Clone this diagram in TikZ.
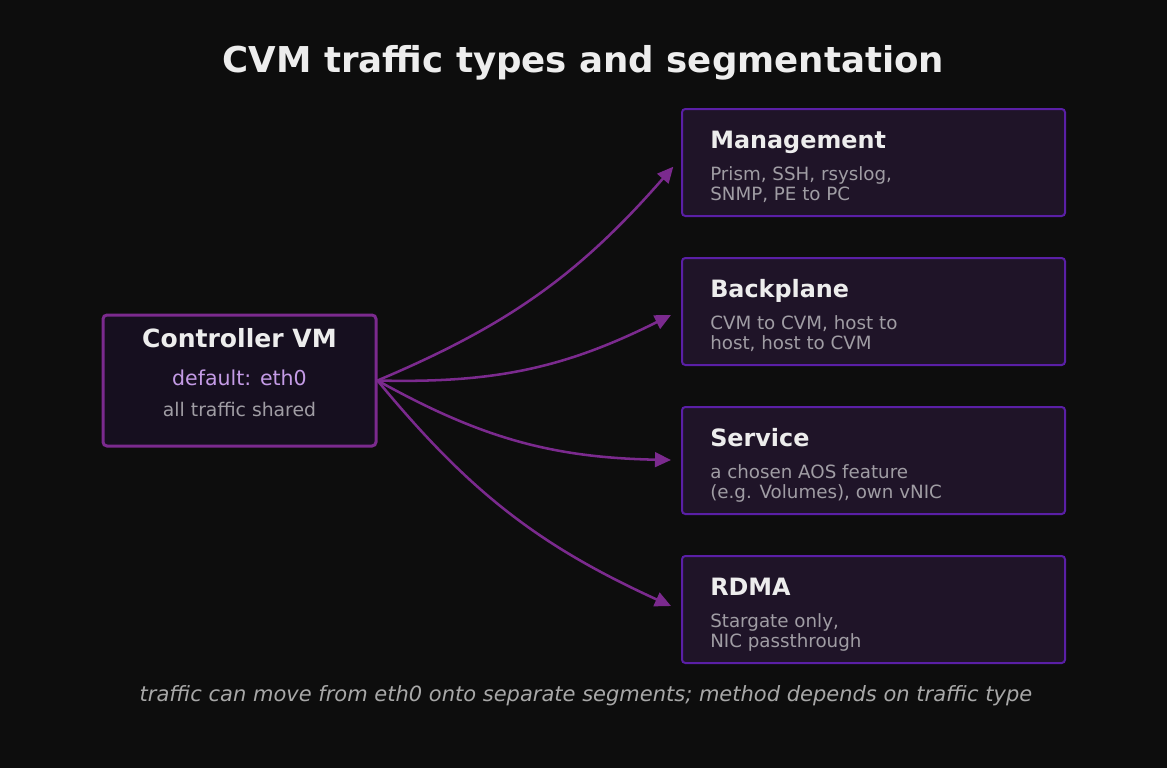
\documentclass[tikz,border=0pt]{standalone}
\usepackage{fontspec}
\setmainfont{DejaVu Sans}
\usetikzlibrary{arrows.meta}
\definecolor{bg}{HTML}{0D0D0D}
\definecolor{cvmfill}{HTML}{160F1F}
\definecolor{cvmline}{HTML}{7B2A8E}
\definecolor{segfill}{HTML}{1F1428}
\definecolor{segline}{HTML}{5A1FA6}
\definecolor{arrowc}{HTML}{7B2A8E}
\definecolor{titlec}{HTML}{EDEDED}
\definecolor{subc}{HTML}{A09DA4}
\definecolor{lav}{HTML}{C49BE6}
\definecolor{footc}{HTML}{A8A8A8}
\tikzset{
  cvmbox/.style={draw=cvmline, fill=cvmfill, line width=2.25pt, rounded corners=3pt,
    minimum width=204.75pt, minimum height=98.25pt, inner sep=0pt},
  segbox/.style={draw=segline, fill=segfill, line width=1.5pt, rounded corners=2.5pt,
    minimum width=287.25pt, minimum height=80.25pt, inner sep=0pt},
  segtitle/.style={anchor=base west, inner sep=0pt, text=titlec, font=\fontsize{17.9pt}{21pt}\selectfont\bfseries},
  segsub/.style={anchor=base west, inner sep=0pt, text=subc, font=\fontsize{13.7pt}{16pt}\selectfont},
  arr/.style={draw=arrowc, line width=1.9pt, -{Triangle[length=12pt,width=11pt]}}
}
\begin{document}
\begin{tikzpicture}[x=0.75pt,y=-0.75pt]
\fill[bg] (0,0) rectangle (1167,768);
\useasboundingbox (0,0) rectangle (1167,768);

\node[anchor=base, inner sep=0pt, text=titlec, font=\fontsize{26.7pt}{31pt}\selectfont\bfseries] (title) at (583.5,72.5) {CVM traffic types and segmentation};

% Controller VM
\node[cvmbox] (cvm) at (239.5,380.5) {};
\node[anchor=base, inner sep=0pt, text=titlec, font=\fontsize{18.8pt}{22pt}\selectfont\bfseries] (cvmT) at (239.5,347) {Controller VM};
\node[anchor=base, inner sep=0pt, text=lav, font=\fontsize{15.4pt}{18pt}\selectfont] (cvmA) at (239.5,385) {default: eth0};
\node[anchor=base, inner sep=0pt, text=subc, font=\fontsize{14.1pt}{17pt}\selectfont] (cvmB) at (239.5,416) {all traffic shared};

% Segment boxes
\node[segbox] (mgmt) at (873.5,162.5) {};
\node[segtitle] (mgmtT) at (710,148) {Management};
\node[segsub] (mgmtA) at (710,180) {Prism, SSH, rsyslog,};
\node[segsub] (mgmtB) at (710,200) {SNMP, PE to PC};

\node[segbox] (back) at (873.5,311.5) {};
\node[segtitle] (backT) at (710,297) {Backplane};
\node[segsub] (backA) at (710,329) {CVM to CVM, host to};
\node[segsub] (backB) at (710,349) {host, host to CVM};

\node[segbox] (serv) at (873.5,460.5) {};
\node[segtitle] (servT) at (710,446) {Service};
\node[segsub] (servA) at (710,478) {a chosen AOS feature};
\node[segsub] (servB) at (710,498) {(e.g. Volumes), own vNIC};

\node[segbox] (rdma) at (873.5,609.5) {};
\node[segtitle] (rdmaT) at (710,595) {RDMA};
\node[segsub] (rdmaA) at (710,627) {Stargate only,};
\node[segsub] (rdmaB) at (710,647) {NIC passthrough};

% Arrow ends
\coordinate (mgmtIn) at (673.3,166.7);
\coordinate (backIn) at (671,315);
\coordinate (servIn) at (671,460);
\coordinate (rdmaIn) at (671,606);
\draw[arr] (cvm.east) to[bend right=13] (mgmtIn);
\draw[arr] (cvm.east) to[bend right=14] (backIn);
\draw[arr] (cvm.east) to[bend right=14] (servIn);
\draw[arr] (cvm.east) to[bend right=13] (rdmaIn);

% Footer
\node[anchor=base, inner sep=0pt, text=footc, font=\fontsize{15.75pt}{18pt}\selectfont\itshape] (foot) at (586,701) {traffic can move from eth0 onto separate segments; method depends on traffic type};
\end{tikzpicture}
\end{document}
